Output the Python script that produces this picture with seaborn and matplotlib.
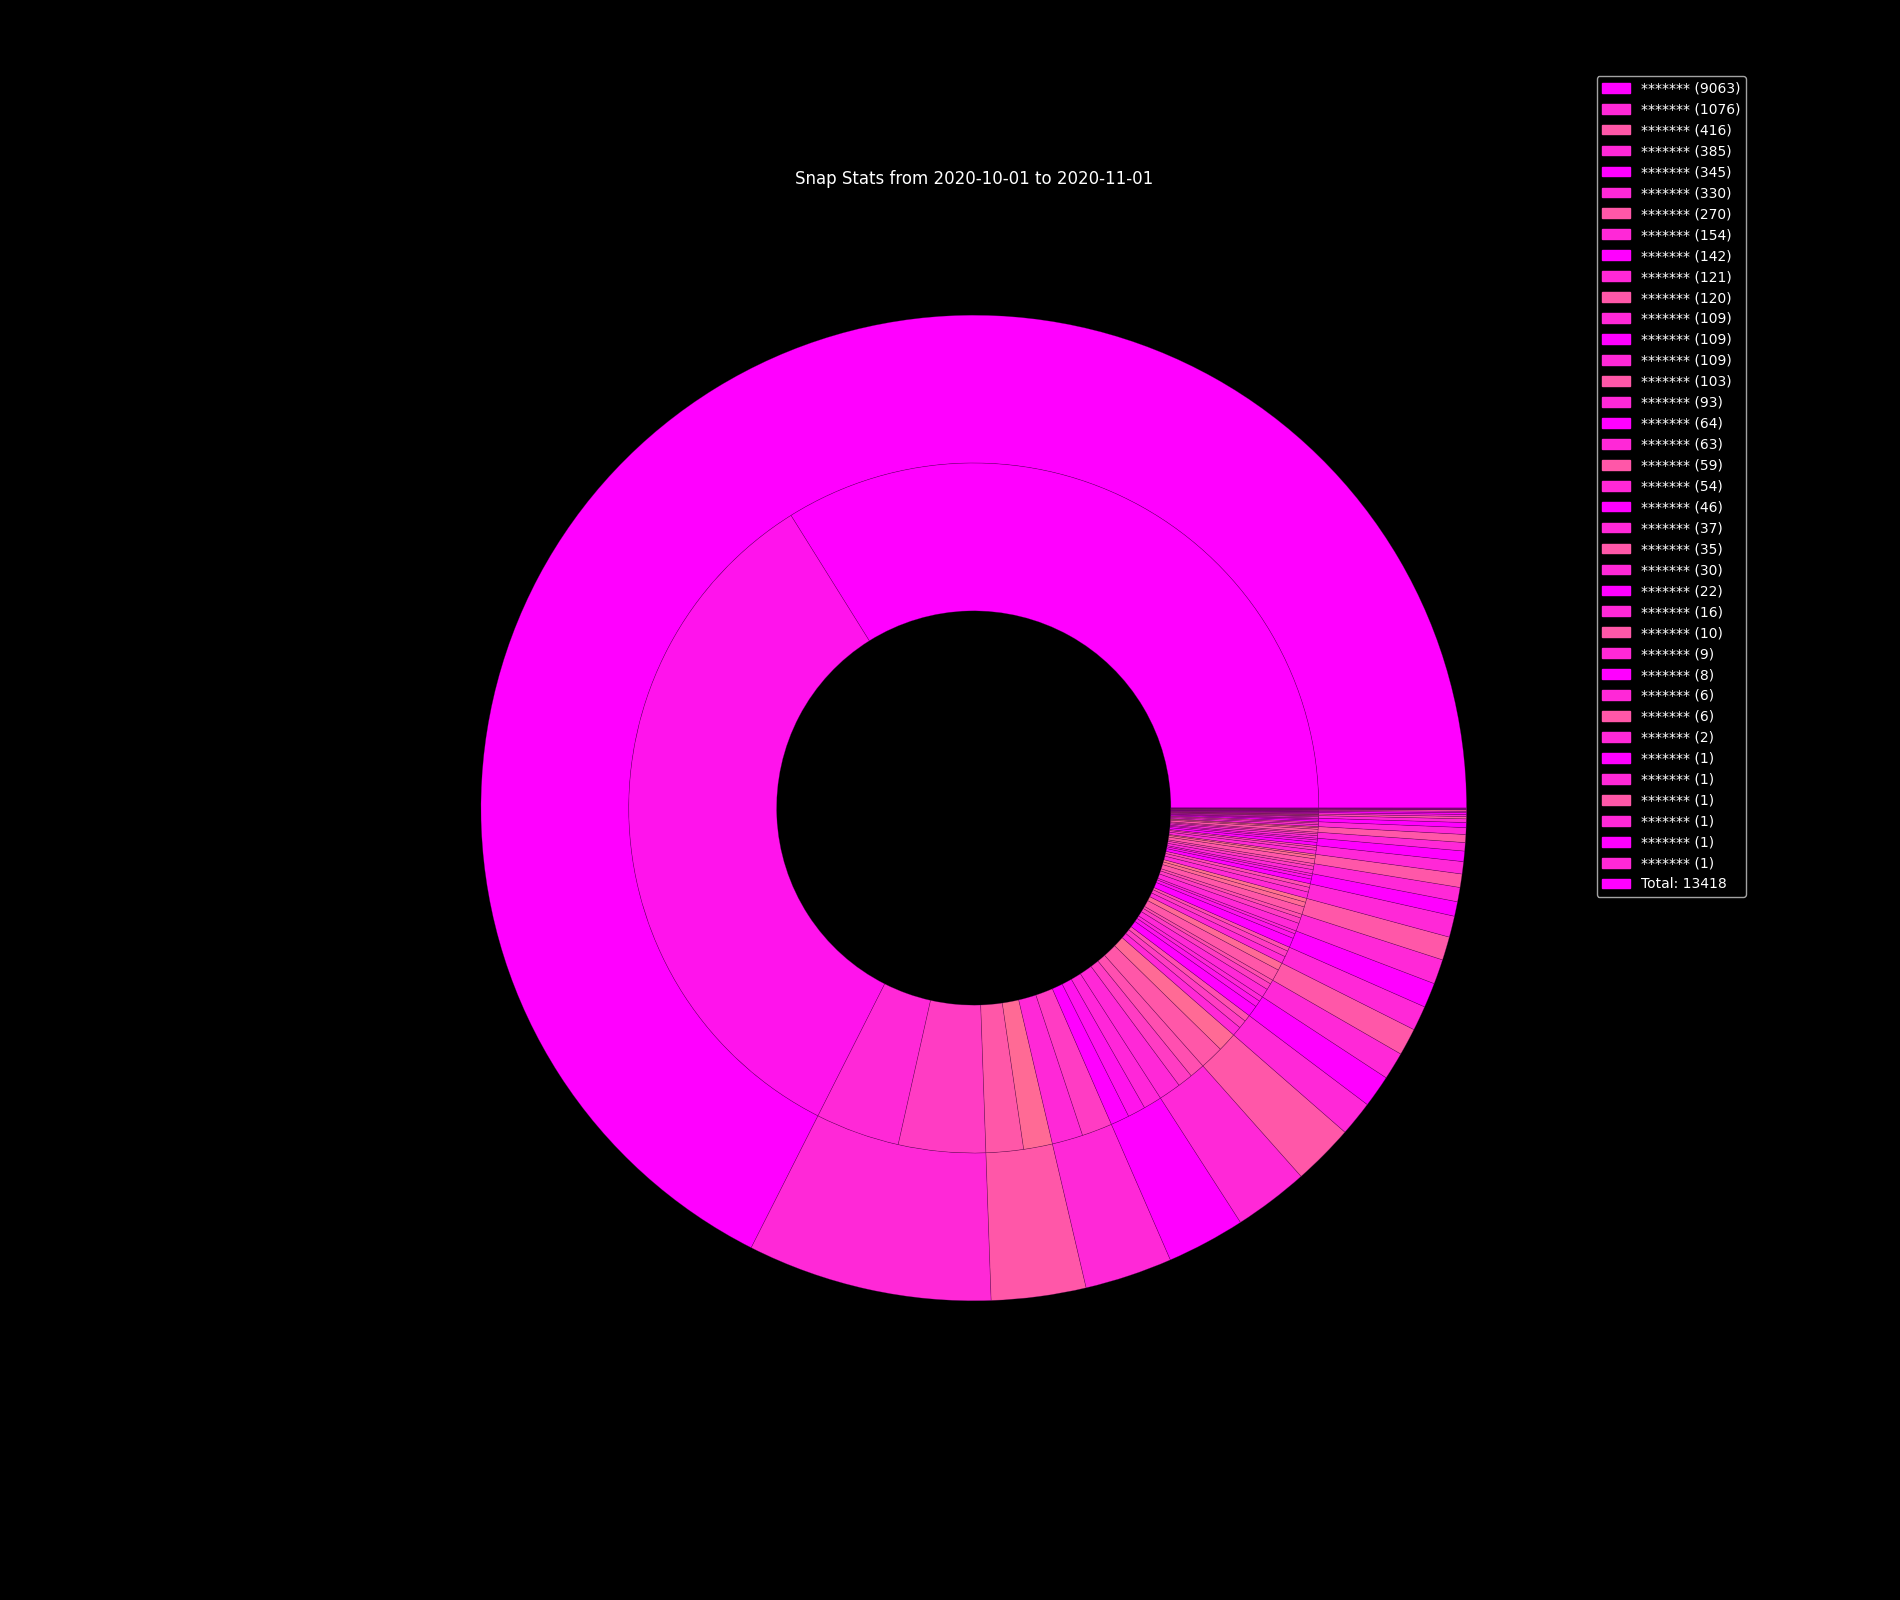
import matplotlib
matplotlib.use("Agg")
import matplotlib.pyplot as plt
import matplotlib.patches as mpatches
import seaborn as sns


# outer ring: one wedge per name, values shown in the legend
outer_labels = ["*******"] * 38
outer_values = [9063, 1076, 416, 385, 345, 330, 270, 154, 142, 121, 120, 109,
                109, 109, 103, 93, 64, 63, 59, 54, 46, 37, 35, 30, 22, 16, 10,
                9, 8, 6, 6, 2, 1, 1, 1, 1, 1, 1]

# inner ring: how each outer wedge is split (estimated)
inner_splits = [
    [4547, 4516], [529, 547], [235, 181], [194, 191], [118, 112, 115],
    [140, 95, 95], [150, 120], [60, 52, 42], [70, 40, 32], [55, 40, 26],
    [72, 48], [45, 38, 26], [60, 30, 19], [50, 35, 24], [48, 30, 25],
    [40, 30, 23], [30, 20, 14], [25, 22, 16], [30, 18, 11], [25, 17, 12],
    [20, 15, 11], [15, 12, 10], [18, 10, 7], [12, 10, 8], [10, 7, 5],
    [8, 5, 3], [5, 3, 2], [5, 4], [4, 3, 1], [3, 2, 1], [4, 2], [1, 1],
    [1], [1], [1], [1], [1], [1],
]

title = "Snap Stats from 2020-10-01 to 2020-11-01"


plt.style.use("dark_background")
cmap = sns.color_palette("spring", as_cmap=True)

# colour position along the spring map, cycling every 4 names
base_t = [0.0, 0.16, 0.34, 0.16]
outer_colors = [cmap(base_t[i % 4]) for i in range(len(outer_values))]

inner_values = []
inner_colors = []
for i, split in enumerate(inner_splits):
    for j, v in enumerate(split):
        inner_values.append(v)
        inner_colors.append(cmap(min(base_t[i % 4] + 0.075 * j, 0.45)))

fig, ax = plt.subplots(figsize=(19, 16), dpi=100)

edge = dict(width=0.3, edgecolor=(0.3, 0.0, 0.3, 0.45), linewidth=0.4)
outer_wedges, _ = ax.pie(outer_values, radius=1.0, colors=outer_colors,
                         wedgeprops=edge)
ax.pie(inner_values, radius=0.7, colors=inner_colors, wedgeprops=edge)

ax.set_title(title, color="white", fontsize=12)

total = sum(outer_values)
handles = [mpatches.Patch(color=c) for c in outer_colors]
handles.append(mpatches.Patch(color=cmap(0.0)))
labels = [f"{n} ({v})" for n, v in zip(outer_labels, outer_values)]
labels.append(f"Total: {total}")

fig.legend(handles, labels, loc="upper right",
           bbox_to_anchor=(1746 / 1900, 1 - 76 / 1600), borderaxespad=0,
           fontsize=10, facecolor="black", edgecolor="0.8")

plt.savefig("out.png", facecolor="black")
